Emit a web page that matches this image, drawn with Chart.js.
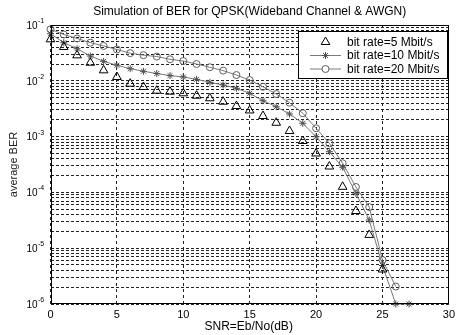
<!DOCTYPE html>
<html>
<head>
<meta charset="utf-8">
<title>BER of QPSK</title>
<script src="https://cdn.jsdelivr.net/npm/chart.js@4/dist/chart.umd.min.js"></script>
<style>
  html, body { margin: 0; padding: 0; background: #fff; }
  #wrap { width: 459px; height: 335px; }
</style>
</head>
<body>
<div id="wrap"><canvas id="ber"></canvas></div>
<script>
// SNR points (dB) and the measured average BER of each bit rate
const snrDb = [0, 1, 2, 3, 4, 5, 6, 7, 8, 9, 10, 11, 12, 13, 14, 15, 16, 17, 18, 19, 20, 21, 22, 23, 24, 25, 26, 27];
const berRate5 = [0.0554, 0.0404, 0.0286, 0.0211, 0.0154, 0.0117, 0.00887, 0.00774, 0.00665, 0.00638,
  0.00597, 0.00541, 0.00486, 0.00422, 0.00353, 0.00294, 0.00234, 0.00177, 0.00126, 0.000834,
  0.000498, 0.000291, 0.000126, 4.64e-5, 1.73e-5, 4.15e-6];
const berRate10 = [0.0698, 0.0482, 0.0376, 0.0278, 0.0223, 0.0190, 0.0165, 0.0148, 0.0135, 0.0124,
  0.0117, 0.0106, 0.0094, 0.00841, 0.00734, 0.00597, 0.00440, 0.00343, 0.00254, 0.00173,
  0.000996, 0.000536, 0.000282, 9.64e-5, 3.20e-5, 4.90e-6, 1e-6, 1e-6];
const berRate20 = [0.0838, 0.0676, 0.0573, 0.0482, 0.0421, 0.0364, 0.0313, 0.0288, 0.0272, 0.0243,
  0.0226, 0.0200, 0.0175, 0.0152, 0.0127, 0.0103, 0.00783, 0.00580, 0.00405, 0.00262,
  0.00141, 0.000759, 0.000333, 0.000125, 5.47e-5, 6.15e-6, 2.06e-6];

const seriesNames = ['bit rate=5 Mbit/s', 'bit rate=10 Mbit/s', 'bit rate=20 Mbit/s'];
const xTicks = [0, 5, 10, 15, 20, 25, 30];
const yExponents = [-6, -5, -4, -3, -2, -1];
const chartTitle = 'Simulation of BER for QPSK(Wideband Channel & AWGN)';
const xTitle = 'SNR=Eb/No(dB)';
const yTitle = 'average BER';

const FONT = '"Liberation Sans", Arial, sans-serif';

const toPoints = (values) => values.map((v, i) => ({ x: snrDb[i], y: v }));

// log grid: 1..9 x every decade, ending at the top decade
const yGridValues = [];
yExponents.forEach((e) => {
  for (let m = 1; m <= 9; m++) {
    if (e === -1 && m > 1) break;
    yGridValues.push(m * Math.pow(10, e));
  }
});

const datasets = [
  {
    label: seriesNames[0],
    data: toPoints(berRate5),
    showLine: false,
    pointStyle: 'triangle',
    pointRadius: 5,
    pointBorderWidth: 1,
    pointBorderColor: '#000',
    pointBackgroundColor: 'rgba(0,0,0,0)',
    borderColor: '#000',
    clip: false
  },
  {
    label: seriesNames[1],
    data: toPoints(berRate10),
    showLine: true,
    borderColor: '#7a7a7a',
    borderWidth: 1,
    pointStyle: 'star',
    pointRadius: 3.5,
    pointBorderWidth: 1,
    pointBorderColor: '#505050',
    pointBackgroundColor: 'rgba(0,0,0,0)',
    clip: false
  },
  {
    label: seriesNames[2],
    data: toPoints(berRate20),
    showLine: true,
    borderColor: '#7a7a7a',
    borderWidth: 1,
    pointStyle: 'circle',
    pointRadius: 3.5,
    pointBorderWidth: 1,
    pointBorderColor: '#606060',
    pointBackgroundColor: 'rgba(0,0,0,0)',
    clip: false
  }
];

// Frame, titles, power-of-ten labels and boxed legend
const decorations = {
  id: 'decorations',
  afterDraw(chart) {
    const { ctx, chartArea: a, scales } = chart;
    ctx.save();

    // axes box
    ctx.strokeStyle = '#000';
    ctx.lineWidth = 1;
    ctx.setLineDash([]);
    ctx.strokeRect(Math.round(a.left) + 0.5, Math.round(a.top) + 0.5,
      Math.round(a.right - a.left) - 1, Math.round(a.bottom - a.top) - 1);

    ctx.fillStyle = '#000';
    // title
    ctx.font = '12px ' + FONT;
    ctx.textAlign = 'center';
    ctx.textBaseline = 'middle';
    ctx.fillText(chartTitle, (a.left + a.right) / 2, 12);

    // x axis title
    ctx.fillText(xTitle, (a.left + a.right) / 2 - 1, 327);

    // y axis title
    ctx.save();
    ctx.font = '11px ' + FONT;
    ctx.fillStyle = '#222';
    ctx.translate(14, (a.top + a.bottom) / 2);
    ctx.rotate(-Math.PI / 2);
    ctx.fillText(yTitle, 0, 0);
    ctx.restore();

    // y tick labels 10^k
    const ys = scales.y;
    yExponents.forEach((e) => {
      const py = ys.getPixelForValue(Math.pow(10, e));
      ctx.font = '10px ' + FONT;
      ctx.textAlign = 'right';
      ctx.textBaseline = 'middle';
      ctx.fillText('10', 37.5, py + 1);
      ctx.font = '7px ' + FONT;
      ctx.textAlign = 'left';
      ctx.fillText(String(e), 38, py - 4);
    });

    // legend
    const lx = 298, ly = 31, lw = 149, lh = 47;
    ctx.fillStyle = '#fff';
    ctx.fillRect(lx, ly, lw, lh);
    ctx.strokeStyle = '#000';
    ctx.lineWidth = 1;
    ctx.strokeRect(lx + 0.5, ly + 0.5, lw, lh);
    const rows = [41.5, 55, 68.5];
    chart.data.datasets.forEach((ds, i) => {
      const ry = rows[i];
      if (ds.showLine) {
        ctx.strokeStyle = ds.borderColor;
        ctx.lineWidth = 1;
        ctx.beginPath();
        ctx.moveTo(310, ry + 0.5);
        ctx.lineTo(341, ry + 0.5);
        ctx.stroke();
      }
      ctx.strokeStyle = ds.pointBorderColor;
      ctx.fillStyle = ds.showLine ? '#fff' : 'rgba(0,0,0,0)';
      ctx.lineWidth = ds.pointBorderWidth;
      Chart.helpers.drawPoint(ctx, {
        pointStyle: ds.pointStyle,
        radius: ds.pointRadius,
        rotation: 0,
        borderWidth: ds.pointBorderWidth
      }, 325.5, ry + 0.5);
      ctx.fillStyle = '#000';
      ctx.font = '12px ' + FONT;
      ctx.textAlign = 'left';
      ctx.textBaseline = 'middle';
      ctx.fillText(ds.label, 347, ry + 1);
    });

    ctx.restore();
  }
};

new Chart(document.getElementById('ber'), {
  type: 'scatter',
  data: { datasets },
  plugins: [decorations],
  options: {
    responsive: true,
    maintainAspectRatio: false,
    animation: false,
    layout: { padding: { top: 25, right: 6.5, bottom: 0, left: 0 } },
    plugins: {
      legend: { display: false },
      tooltip: { enabled: false },
      title: { display: false }
    },
    scales: {
      x: {
        type: 'linear',
        min: 0,
        max: 30,
        afterBuildTicks: (scale) => { scale.ticks = xTicks.map(v => ({ value: v })); },
        ticks: {
          color: '#000',
          font: { family: FONT, size: 11 },
          padding: 4,
          maxRotation: 0,
          autoSkip: false
        },
        grid: { color: '#222', lineWidth: 1, drawTicks: false },
        border: { display: false, dash: [3, 3] },
        afterFit: (scale) => { scale.height = 31; }
      },
      y: {
        type: 'logarithmic',
        min: 1e-6,
        max: 1e-1,
        afterBuildTicks: (scale) => { scale.ticks = yGridValues.map(v => ({ value: v })); },
        ticks: { display: false },
        grid: { color: '#222', lineWidth: 1, drawTicks: false },
        border: { display: false, dash: [3, 2] },
        afterFit: (scale) => { scale.width = 50.5; }
      }
    }
  }
});
</script>
</body>
</html>
